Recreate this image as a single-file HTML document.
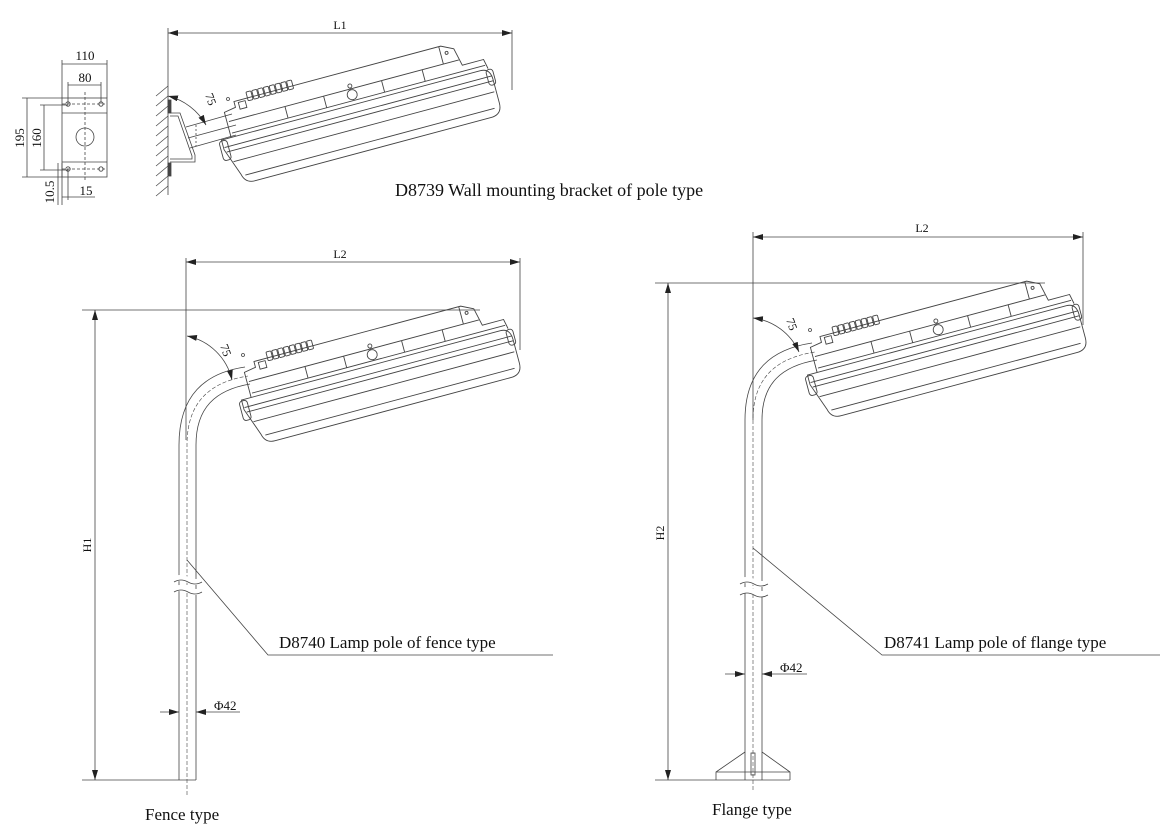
<!DOCTYPE html>
<html><head><meta charset="utf-8"><style>
html,body{margin:0;padding:0;background:#fff;}
svg{display:block;font-family:"Liberation Serif",serif;}
</style></head><body>
<svg width="1170" height="840" viewBox="0 0 1170 840" xmlns="http://www.w3.org/2000/svg">
<defs>
<marker id="a" viewBox="0 0 10 6" refX="10" refY="3" markerWidth="10" markerHeight="6" orient="auto-start-reverse" markerUnits="userSpaceOnUse"><path d="M0,0 L10,3 L0,6 Z" fill="#222"/></marker>
<g id="lamp" fill="none" stroke="#444" stroke-width="0.9">
  <path d="M0,-2 H268 Q278,-2 278,10 V34 Q278,46 266,46 H22 Q12,46 10,36 L0,8 Z"/>
  <line x1="1" y1="6" x2="278" y2="6"/>
  <line x1="2" y1="11" x2="278" y2="11"/>
  <line x1="6" y1="22" x2="276" y2="22"/>
  <line x1="14" y1="38" x2="272" y2="38"/>
  <rect x="-3" y="-1" width="8" height="20" rx="3"/>
  <rect x="273" y="-1" width="7" height="16" rx="3"/>
  <path d="M10,-2 L10,-28 L22,-30 L22,-36 L236,-36 L248,-30 L252,-12 L274,-12 L276,-2"/>
  <line x1="12" y1="-6" x2="274" y2="-6"/>
  <line x1="12" y1="-18" x2="250" y2="-18"/>
  <line x1="70" y1="-18" x2="70" y2="-6"/>
  <line x1="110" y1="-18" x2="110" y2="-6"/>
  <line x1="170" y1="-18" x2="170" y2="-6"/>
  <line x1="212" y1="-18" x2="212" y2="-6"/>
  <line x1="234" y1="-36" x2="234" y2="-18"/>
  <circle cx="138" cy="-12" r="5"/>
  <circle cx="138" cy="-21" r="2"/>
  <rect x="26" y="-34" width="7" height="7"/>
  <rect x="36" y="-42" width="5" height="9" rx="1"/>
  <rect x="42" y="-42" width="5" height="9" rx="1"/>
  <rect x="48" y="-42" width="5" height="9" rx="1"/>
  <rect x="54" y="-42" width="5" height="9" rx="1"/>
  <rect x="60" y="-42" width="5" height="9" rx="1"/>
  <rect x="66" y="-42" width="5" height="9" rx="1"/>
  <rect x="72" y="-42" width="5" height="9" rx="1"/>
  <rect x="78" y="-42" width="5" height="9" rx="1"/>
  <circle cx="240" cy="-28" r="1.5"/>
</g>
</defs>

<g stroke="#444" stroke-width="0.8" fill="none">
<!-- left plate -->
<rect x="62" y="98" width="45" height="79"/>
<line x1="62" y1="113" x2="107" y2="113"/>
<line x1="62" y1="162" x2="107" y2="162"/>
<circle cx="85" cy="137" r="9"/>
<line x1="85" y1="92" x2="85" y2="182" stroke-dasharray="3,2"/>
<line x1="62" y1="104" x2="107" y2="104" stroke-dasharray="3,2"/>
<line x1="62" y1="169" x2="107" y2="169" stroke-dasharray="3,2"/>
<circle cx="68" cy="104" r="2.2"/><circle cx="101" cy="104" r="2.2"/>
<circle cx="68" cy="169" r="2.2"/><circle cx="101" cy="169" r="2.2"/>
<line x1="62" y1="60" x2="62" y2="98"/><line x1="107" y1="60" x2="107" y2="98"/>
<line x1="62" y1="64" x2="107" y2="64"/>
<line x1="68" y1="82" x2="68" y2="104"/><line x1="101" y1="82" x2="101" y2="104"/>
<line x1="68" y1="85" x2="101" y2="85"/>
<line x1="22" y1="98" x2="62" y2="98"/><line x1="22" y1="177" x2="62" y2="177"/>
<line x1="27" y1="98" x2="27" y2="177"/>
<line x1="40" y1="105" x2="68" y2="105"/><line x1="40" y1="170" x2="68" y2="170"/>
<line x1="44" y1="105" x2="44" y2="170"/>
<line x1="58" y1="163" x2="58" y2="205"/><line x1="62" y1="163" x2="62" y2="205"/>
<line x1="68" y1="169" x2="68" y2="200"/><line x1="62" y1="197" x2="95" y2="197"/>

<!-- wall -->
<line x1="168" y1="28" x2="168" y2="195"/>
<g stroke-width="0.7">
<line x1="156" y1="96" x2="168" y2="86"/><line x1="156" y1="106" x2="168" y2="96"/><line x1="156" y1="116" x2="168" y2="106"/><line x1="156" y1="126" x2="168" y2="116"/><line x1="156" y1="136" x2="168" y2="126"/><line x1="156" y1="146" x2="168" y2="136"/><line x1="156" y1="156" x2="168" y2="146"/><line x1="156" y1="166" x2="168" y2="156"/><line x1="156" y1="176" x2="168" y2="166"/><line x1="156" y1="186" x2="168" y2="176"/><line x1="156" y1="196" x2="168" y2="186"/>
</g>
<rect x="168" y="100" width="3" height="13" fill="#444"/>
<rect x="168" y="163" width="3" height="13" fill="#444"/>
<path d="M170,113 L180,113 L195,155 L195,162 L170,162"/>
<path d="M170,116 L178,116 L192,156 L192,159 L170,159"/>
<path d="M186,127 L232,114 M190,148 L236,135 M188,138 L236,125" />
<path d="M196,125 L196,146" stroke-dasharray="2,2"/>
<use href="#lamp" transform="translate(222,142) rotate(-15)"/>
<line x1="512" y1="30" x2="512" y2="90"/>
<line x1="168" y1="33" x2="512" y2="33" marker-start="url(#a)" marker-end="url(#a)"/>
<path d="M168,96 A60,60 0 0 1 206,125" marker-start="url(#a)" marker-end="url(#a)"/>
<circle cx="228" cy="99" r="1.5"/>

<!-- fence -->
<line x1="82" y1="780" x2="196" y2="780"/>
<line x1="82" y1="310" x2="480" y2="310"/>
<line x1="95" y1="310" x2="95" y2="780" marker-start="url(#a)" marker-end="url(#a)"/>
<line x1="186" y1="258" x2="186" y2="440"/>
<line x1="520" y1="258" x2="520" y2="350"/>
<line x1="186" y1="262" x2="520" y2="262" marker-start="url(#a)" marker-end="url(#a)"/>
<path d="M179,780 V445 C179,395 205,373 245,367"/>
<path d="M196,780 V445 C196,408 215,390 250,384"/>
<path d="M187,795 V445 C187,402 210,382 248,376" stroke-dasharray="4,2" stroke-width="0.6"/>
<path d="M172,580 q8,-4 16,0 q8,4 16,0 M172,590 q8,-4 16,0 q8,4 16,0" fill="#fff" stroke="#fff" stroke-width="6"/>
<path d="M174,582 q7,-4 14,0 q7,4 14,0 M174,592 q7,-4 14,0 q7,4 14,0"/>
<use href="#lamp" transform="translate(242,402) rotate(-15)"/>
<path d="M187,336 A58,58 0 0 1 232,380" marker-start="url(#a)" marker-end="url(#a)"/>
<circle cx="243" cy="355" r="1.5"/>
<path d="M187,560 L268,655 L553,655"/>
<line x1="160" y1="712" x2="179" y2="712" marker-end="url(#a)"/>
<line x1="240" y1="712" x2="196" y2="712" marker-end="url(#a)"/>

<!-- flange -->
<line x1="655" y1="780" x2="790" y2="780"/>
<line x1="655" y1="283" x2="1045" y2="283"/>
<line x1="668" y1="283" x2="668" y2="780" marker-start="url(#a)" marker-end="url(#a)"/>
<line x1="753" y1="232" x2="753" y2="420"/>
<line x1="1083" y1="232" x2="1083" y2="325"/>
<line x1="753" y1="237" x2="1083" y2="237" marker-start="url(#a)" marker-end="url(#a)"/>
<path d="M745,780 V420 C745,370 772,349 812,343"/>
<path d="M762,780 V420 C762,383 782,366 817,360"/>
<path d="M753,790 V420 C753,377 777,358 815,352" stroke-dasharray="4,2" stroke-width="0.6"/>
<path d="M738,582 q8,-4 16,0 q8,4 16,0 M738,592 q8,-4 16,0 q8,4 16,0" fill="#fff" stroke="#fff" stroke-width="6"/>
<path d="M740,584 q7,-4 14,0 q7,4 14,0 M740,595 q7,-4 14,0 q7,4 14,0"/>
<path d="M716,780 V772 L745,752 M762,752 L790,772 V780 M716,772 H790"/>
<rect x="751" y="753" width="4" height="22"/>
<use href="#lamp" transform="translate(808,377) rotate(-15)"/>
<path d="M753,318 A58,58 0 0 1 799,352" marker-start="url(#a)" marker-end="url(#a)"/>
<circle cx="810" cy="330" r="1.5"/>
<path d="M753,548 L882,655 L1160,655"/>
<line x1="725" y1="674" x2="745" y2="674" marker-end="url(#a)"/>
<line x1="807" y1="674" x2="762" y2="674" marker-end="url(#a)"/>
</g>

<g fill="#111" font-size="13">
<text x="85" y="60" text-anchor="middle">110</text>
<text x="85" y="82" text-anchor="middle">80</text>
<text transform="translate(24,138) rotate(-90)" text-anchor="middle">195</text>
<text transform="translate(41,138) rotate(-90)" text-anchor="middle">160</text>
<text transform="translate(54,192) rotate(-90)" text-anchor="middle">10.5</text>
<text x="86" y="195" text-anchor="middle">15</text>
<text x="340" y="29" text-anchor="middle" font-size="12">L1</text>
<text transform="translate(205,95) rotate(70)" font-size="12">75</text>
<text x="395" y="196" font-size="18">D8739 Wall mounting bracket of pole type</text>
<text x="340" y="258" text-anchor="middle" font-size="12">L2</text>
<text x="922" y="232" text-anchor="middle" font-size="12">L2</text>
<text transform="translate(220,346) rotate(70)" font-size="12">75</text>
<text transform="translate(786,320) rotate(70)" font-size="12">75</text>
<text transform="translate(91,545) rotate(-90)" text-anchor="middle" font-size="12">H1</text>
<text transform="translate(664,533) rotate(-90)" text-anchor="middle" font-size="12">H2</text>
<text x="279" y="648" font-size="17">D8740 Lamp pole of fence type</text>
<text x="884" y="648" font-size="17">D8741 Lamp pole of flange type</text>
<text x="214" y="710" font-size="13">Φ42</text>
<text x="780" y="672" font-size="13">Φ42</text>
<text x="145" y="820" font-size="17">Fence type</text>
<text x="712" y="815" font-size="17">Flange type</text>
</g>
</svg>
</body></html>
